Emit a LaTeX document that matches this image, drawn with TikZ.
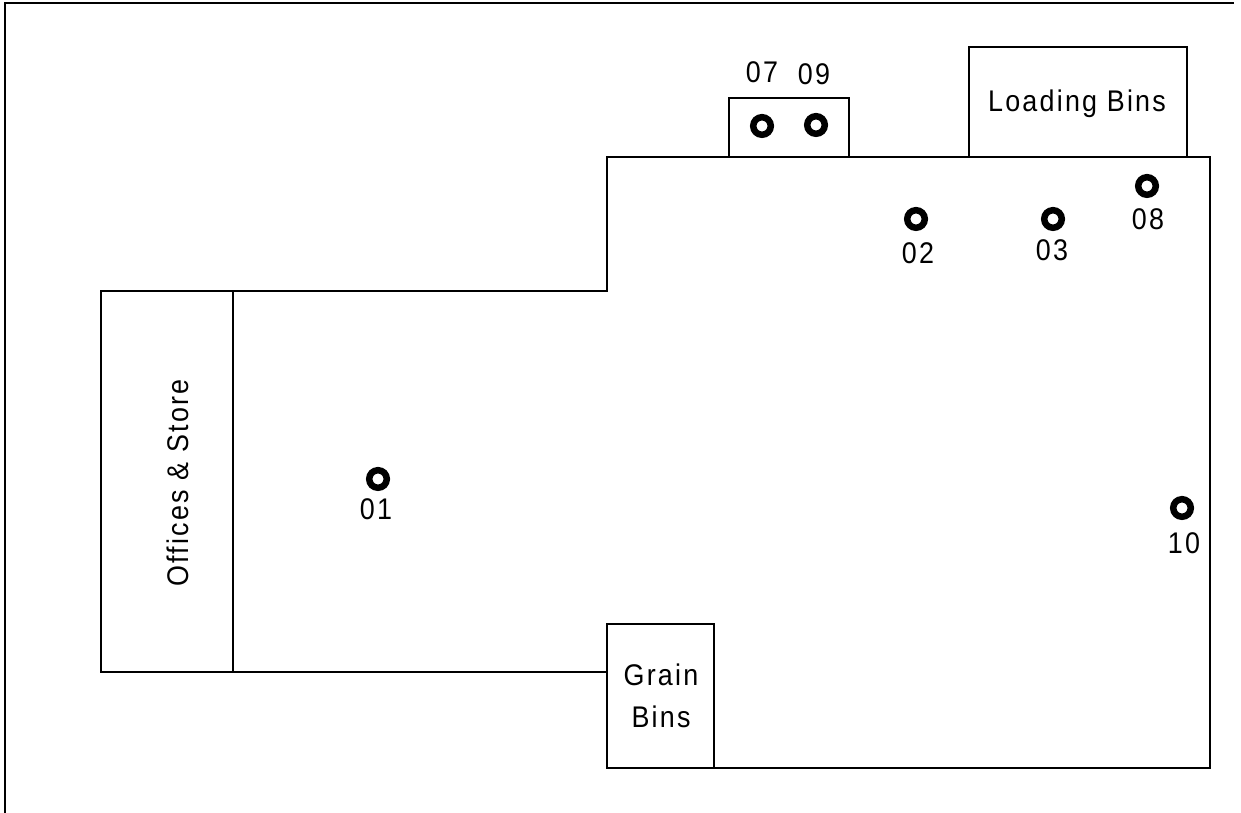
\documentclass[tikz,border=0pt]{standalone}
\usepackage{fontspec}
\setmainfont[LetterSpace=7.5,FakeStretch=0.9]{Liberation Sans}
\begin{document}
\begin{tikzpicture}[x=0.02cm,y=-0.02cm,
  wall/.style={draw=black,line width=1.25pt},
  room/.style={wall,fill=white,inner sep=0pt,outer sep=0pt,anchor=north west,align=center},
  ring/.style={circle,draw=black,line width=3.7pt,minimum size=10pt,inner sep=0pt,outer sep=0pt,fill=white},
  lab/.style={font=\fontsize{17}{20}\selectfont,inner sep=0pt}]
\useasboundingbox (0,0) rectangle (1241,813);
\coordinate (fa) at (5,813);
\coordinate (fb) at (5,3);
\coordinate (fc) at (1234,3);
\draw[wall] (fa) -- (fb) -- (fc);
\coordinate (w1) at (233,291);
\coordinate (w2) at (607,291);
\coordinate (w3) at (607,157);
\coordinate (w4) at (1210,157);
\coordinate (w5) at (1210,768);
\coordinate (w6) at (607,768);
\coordinate (w7) at (233,672);
\coordinate (w8) at (607,672);
\draw[wall,line join=miter] (w1) -- (w2) -- (w3) -- (w4) -- (w5) -- (w6);
\draw[wall] (w7) -- (w8);
\node[room,minimum width=2.64cm,minimum height=7.62cm] (offices) at (101,291) {};
\node[lab,rotate=90] (officeslabel) at (178,483) {Offices \& Store};
\node[room,minimum width=2.14cm,minimum height=2.88cm] (grain) at (607,624) {};
\node[lab,align=center] (grainlabel) at (661,696) {Grain\\[4pt]Bins};
\node[room,minimum width=4.36cm,minimum height=2.2cm] (loading) at (969,47) {};
\node[lab] (loadinglabel) at (1077,104) {Loading Bins};
\node[room,minimum width=2.4cm,minimum height=1.18cm] (pens) at (729,98) {};
\node[ring] (s07) at (762,126) {};
\node[ring] (s09) at (816,125) {};
\node[ring] (s02) at (916,219) {};
\node[ring] (s03) at (1053,219) {};
\node[ring] (s08) at (1147,186) {};
\node[ring] (s01) at (378,479) {};
\node[ring] (s10) at (1182,508) {};
\node[lab] (l07) at (762,72) {07};
\node[lab] (l09) at (814,74) {09};
\node[lab] (l02) at (918,253) {02};
\node[lab] (l03) at (1052,250) {03};
\node[lab] (l08) at (1148,219) {08};
\node[lab] (l01) at (376,509) {01};
\node[lab] (l10) at (1184,543) {10};
\end{tikzpicture}
\end{document}
